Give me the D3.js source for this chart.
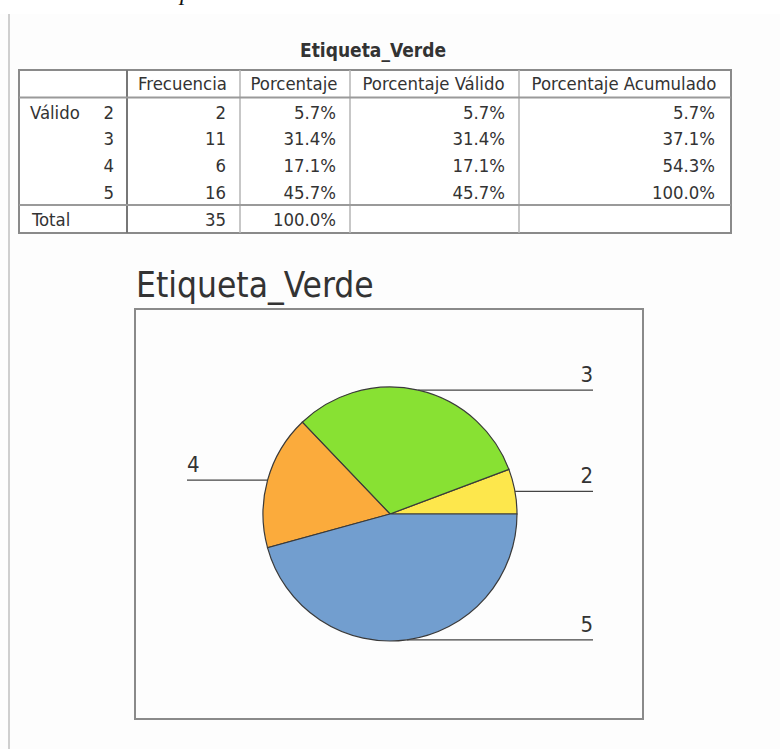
<!DOCTYPE html>
<html>
<head>
<meta charset="utf-8">
<script src="https://cdn.jsdelivr.net/npm/d3@7"></script>
<style>
  html, body { margin: 0; padding: 0; background: #fdfdfd; }
  svg { display: block; }
  .tbl { font-family: "DejaVu Sans Condensed", "DejaVu Sans", sans-serif; font-stretch: condensed; fill: #333; }
</style>
</head>
<body>
<svg id="chart"></svg>
<script>
// frequency table data
const categories = ["2", "3", "4", "5"];
const frequencies = [2, 11, 6, 16];
const percentages = [5.7, 31.4, 17.1, 45.7];
const validPercentages = [5.7, 31.4, 17.1, 45.7];
const cumulativePercentages = [5.7, 37.1, 54.3, 100.0];
const totalFrequency = 35;
const totalPercentage = 100.0;
const headers = ["Frecuencia", "Porcentaje", "Porcentaje Válido", "Porcentaje Acumulado"];
const sliceColors = ["#fde74c", "#88e133", "#fbab3c", "#729ecf"];
const title = "Etiqueta_Verde";

const W = 780, H = 749;
const svg = d3.select("#chart").attr("width", W).attr("height", H);

// white strip at top + page edge line
svg.append("rect").attr("x", 0).attr("y", 0).attr("width", W).attr("height", 14).attr("fill", "#fff");
svg.append("line").attr("x1", 9).attr("x2", 9).attr("y1", 14).attr("y2", H)
  .attr("stroke", "#cfcfcf").attr("stroke-width", 2);
// descender of a line of text above, cut by the page edge as in the source
svg.append("text").attr("x", 180).attr("y", 0)
  .style("font-family", "Liberation Serif, serif").style("font-style", "italic")
  .style("font-size", "24px").attr("fill", "#111").text("p");

// ---------- table ----------
const pct = d3.format(".1f");
const colX = [19, 127, 240, 350, 519, 731];
const tTop = 70, headBottom = 97.5, totalTop = 205, tBottom = 233;
const rowY = d3.scalePoint().domain(categories).range([112, 192]);

const tbl = svg.append("g").attr("class", "tbl");

tbl.append("text").attr("x", 373).attr("y", 57).attr("text-anchor", "middle")
  .style("font-size", "19px").style("font-weight", "bold").text(title);

tbl.append("rect").attr("x", colX[0]).attr("y", tTop)
  .attr("width", colX[5] - colX[0]).attr("height", tBottom - tTop)
  .attr("fill", "#fff").attr("stroke", "#8a8a8a").attr("stroke-width", 2);

// inner vertical lines
colX.slice(2, 5).forEach(x => {
  tbl.append("line").attr("x1", x).attr("x2", x).attr("y1", tTop).attr("y2", tBottom)
    .attr("stroke", "#b5b5b5").attr("stroke-width", 1.5);
});
tbl.append("line").attr("x1", colX[1]).attr("x2", colX[1]).attr("y1", tTop).attr("y2", tBottom)
  .attr("stroke", "#777").attr("stroke-width", 2);
[headBottom, totalTop].forEach(y => {
  tbl.append("line").attr("x1", colX[0]).attr("x2", colX[5]).attr("y1", y).attr("y2", y)
    .attr("stroke", "#9a9a9a").attr("stroke-width", 2);
});

// headers
const fs = "18.4px";
tbl.selectAll("text.head").data(headers).join("text").attr("class", "head")
  .attr("x", (d, i) => (colX[i + 1] + colX[i + 2]) / 2 - 1)
  .attr("y", 90).attr("text-anchor", "middle").style("font-size", fs).text(d => d);

tbl.append("text").attr("x", 30).attr("y", rowY("2") + 6.5).style("font-size", fs).text("Válido");
tbl.selectAll("text.cat").data(categories).join("text").attr("class", "cat")
  .attr("x", 114).attr("y", d => rowY(d) + 6.5).attr("text-anchor", "end")
  .style("font-size", fs).text(d => d);

const cols = [
  frequencies.map(String),
  percentages.map(v => pct(v) + "%"),
  validPercentages.map(v => pct(v) + "%"),
  cumulativePercentages.map(v => pct(v) + "%")
];
cols.forEach((vals, c) => {
  tbl.selectAll("text.c" + c).data(vals).join("text").attr("class", "c" + c)
    .attr("x", colX[c + 2] - (c === 3 ? 16 : 14))
    .attr("y", (d, i) => rowY(categories[i]) + 6.5)
    .attr("text-anchor", "end").style("font-size", fs).text(d => d);
});

tbl.append("text").attr("x", 32).attr("y", 225.5).style("font-size", fs).text("Total");
tbl.append("text").attr("x", colX[2] - 14).attr("y", 225.5).attr("text-anchor", "end")
  .style("font-size", fs).text(totalFrequency);
tbl.append("text").attr("x", colX[3] - 14).attr("y", 225.5).attr("text-anchor", "end")
  .style("font-size", fs).text(pct(totalPercentage) + "%");

// ---------- pie chart ----------
svg.append("text").attr("class", "tbl").attr("x", 136).attr("y", 297)
  .style("font-size", "35px").attr("fill", "#222").text(title);

svg.append("rect").attr("x", 135).attr("y", 309).attr("width", 508).attr("height", 410)
  .attr("fill", "#fdfdfd").attr("stroke", "#8a8a8a").attr("stroke-width", 2);

const cx = 390, cy = 514, r = 127;
const data = categories.map((c, i) => ({ cat: c, f: frequencies[i], color: sliceColors[i] }));

const pie = d3.pie().sort(null).value(d => d.f)
  .startAngle(Math.PI / 2).endAngle(Math.PI / 2 - 2 * Math.PI);
const arc = d3.arc().innerRadius(0).outerRadius(r);
const arcs = pie(data);

const g = svg.append("g").attr("transform", `translate(${cx},${cy})`);
g.selectAll("path").data(arcs).join("path")
  .attr("d", arc).attr("fill", d => d.data.color)
  .attr("stroke", "#3a3a3a").attr("stroke-width", 1.2);

// leader lines and labels
const leftEnd = 187, rightEnd = 593;
arcs.forEach(d => {
  const a = (d.startAngle + d.endAngle) / 2;
  const px = cx + r * Math.sin(a), py = cy - r * Math.cos(a);
  const left = px < cx;
  const ex = left ? leftEnd : rightEnd;
  svg.append("line").attr("x1", px).attr("x2", ex).attr("y1", py).attr("y2", py)
    .attr("stroke", "#444").attr("stroke-width", 1.3);
  svg.append("text").attr("class", "tbl").attr("x", ex).attr("y", py - 8)
    .attr("text-anchor", left ? "start" : "end")
    .style("font-size", "22px").attr("fill", "#333").text(d.data.cat);
});
</script>
</body>
</html>
